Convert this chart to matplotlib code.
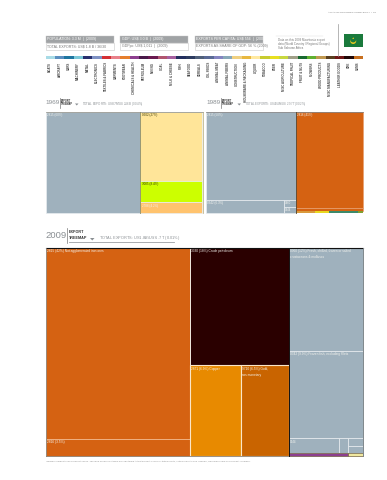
import matplotlib
matplotlib.use("Agg")
import matplotlib.pyplot as plt
from matplotlib.patches import Rectangle, Polygon, Circle

plt.rcParams['font.family'] = ['Liberation Sans Narrow', 'Liberation Sans', 'DejaVu Sans']

GREY = "#9fb1bd"
ORANGE = "#d56212"
LINE = "#e9edf0"

# legend strip
strip_colors = ["#a8dbe6", "#5b8fc0", "#1f76a0", "#7cc8d8", "#28306e", "#7f92c4", "#d42f34", "#e9808a",
                "#e67f2d", "#8d3f8f", "#4a1a4a", "#6a1a50", "#b0556f", "#a660a0", "#23305f", "#2d3c60",
                "#50607a", "#5a6a95", "#8484c0", "#88a8b8", "#f0d080", "#e8b840", "#ffe9a0", "#c8cc30",
                "#e8e020", "#c8d840", "#a0a088", "#186a30", "#60b030", "#c09850", "#5a4020", "#701818",
                "#200808", "#c87020"]
strip_labels = ["BOATS", "AIRCRAFT", "CARS", "MACHINERY", "METAL", "ELECTRONICS", "TEXTILES & FABRICS", "GARMENTS",
                "FOOTWEAR", "CHEMICALS & HEALTH", "PETROLEUM", "MINING", "COAL", "MILK & CHEESE", "FISH", "SEAFOOD",
                "CEREALS", "OIL SEEDS", "ANIMAL MEAT", "ANIMAL FIBERS", "CONSTRUCTION", "HOUSEWARE & PACKAGING", "LIQUOR",
                "TOBACCO", "BEER", "MISC AGRICULTURE", "TROPICAL FRUIT", "FRUIT & NUTS", "FLOWERS", "WOOD PRODUCTS",
                "MISC MANUFACTURING", "LEATHER GOODS", "ORE", "GEMS"]

# header boxes
header_top = ["POPULATION: 3.3 M  |  (2009)", "GDP: US$ 3.0 B  |  (2009)", "EXPORTS PER CAPITA: US$ 556  |  (2009)"]
header_bottom = ["TOTAL EXPORTS: US$ 1.8 B / 36/30", "GDPpc: US$ 1,011  |  (2009)", "EXPORTS AS SHARE OF GDP: 56 % (2009)"]
note_lines = ["Data on this 2009 Mauritania export", "data (World Country / Regional Groups)", "Sub Saharan Africa"]

# treemap shares, percent of each year's exports
t69_left = [60.4]
t69_right = [27.0, 8.4, 4.2]
t69_labels = ["2815 (60%)", "0502 (27%)", "3005 (8.4%)", "2788 (4.2%)"]
t69_colors = [GREY, "#ffe599", "#ccff00", "#ffc36e"]

t89_left = [50.0, 6.3]
t89_small = [0.5, 0.5]
t89_right = [40.7, 1.0]
t89_strip = [0.28, 0.22, 0.42, 0.08]
t89_strip_colors = ["#d99a3d", "#e8d820", "#3d8a6a", "#80a030"]

t09_orange = [41.6, 3.7]
t09_dark = [17.6]
t09_metal = [7.0, 6.6]
t09_grey = [11.55, 9.85]
t09_small = [1.1, 0.22, 0.16, 0.16]
t09_bottom = [0.27, 0.07]
t09_labels = ["2815 (42%) Not agglomerated iron ores", "2816 (3.5%)", "3330 (18%) Crude petroleum",
              "2871 (6.9%) Copper", "9710 (6.5%) Gold,\nnon-monetary",
              "0360 (12%) Fresh, chilled, frozen or salted\ncrustaceans & molluscs",
              "0342 (9.9%) Frozen fish, excluding fillets", "0344"]


def vsplit(x, y, w, h, vals):
    # stack rectangles from top to bottom
    out = []
    total = sum(vals)
    for v in vals:
        hh = h * v / total
        out.append((x, y, w, hh))
        y += hh
    return out


def hsplit(x, y, w, h, vals):
    out = []
    total = sum(vals)
    for v in vals:
        ww = w * v / total
        out.append((x, y, ww, h))
        x += ww
    return out


def box(r, color, ec=LINE, lw=0.5):
    ax.add_patch(Rectangle((r[0], r[1]), r[2], r[3], fc=color, ec=ec, lw=lw))


def label(r, s, color="#f3f3ee", size=2.2):
    ax.text(r[0] + 1.2, r[1] + 1.4, s, color=color, fontsize=size, va="top", ha="left", linespacing=1.6)


fig = plt.figure(figsize=(3.87, 4.8), dpi=100)
ax = fig.add_axes([0, 0, 1, 1])
ax.set_xlim(0, 387)
ax.set_ylim(480, 0)
ax.axis("off")

# page header
ax.text(376, 12, "ATLAS OF ECONOMIC COMPLEXITY  |  63", fontsize=1.7, color="#777777", ha="right", va="center")

# boxes at the top
for i, x in enumerate([45.5, 120, 195]):
    ax.add_patch(Rectangle((x, 35.5), 68, 7.5, fc="#a0a3a5", ec="#c8c8c8", lw=0.3))
    ax.add_patch(Rectangle((x, 43), 68, 6.5, fc="white", ec="#c8c8c8", lw=0.4))
    ax.text(x + 1.5, 39.3, header_top[i], fontsize=2.6, color="white", va="center")
    ax.text(x + 1.5, 46.3, header_bottom[i], fontsize=2.6, color="#777777", va="center")

ax.plot([276, 323], [35.5, 35.5], color="#dddddd", lw=0.3)
for i, s in enumerate(note_lines):
    ax.text(278, 39.5 + i * 4.4, s, fontsize=2.1, color="#777777", va="center")

# flag
ax.plot([338, 338], [24, 56], color="#999999", lw=0.5)
ax.add_patch(Rectangle((343.5, 34), 19.5, 13, fc="#1a7a3c", ec="none"))
ax.add_patch(Circle((353.2, 41), 3.0, fc="#e8c820", ec="none"))
ax.add_patch(Circle((353.2, 39.4), 3.0, fc="#1a7a3c", ec="none"))
ax.add_patch(Polygon([(352.3, 39), (354.1, 39), (353.2, 37.2)], fc="#e8c820", ec="none"))

# colour strip with product community names
seg = (363 - 45.5) / len(strip_colors)
for i, c in enumerate(strip_colors):
    ax.bar(45.5 + i * seg, 3, width=seg, bottom=56, color=c, align="edge")
    ax.text(45.5 + (i + 0.5) * seg, 62, strip_labels[i], rotation=90, fontsize=2.1, weight="bold",
            color="#444444", ha="center", va="top")

# 1969
ax.text(45.5, 103, "1969", fontsize=4.6, color="#8a8f93", va="center")
ax.plot([59.5, 59.5], [98, 108], color="#777777", lw=0.5)
ax.text(61, 101.2, "EXPORT", fontsize=1.8, weight="bold", color="#333333", va="center")
ax.text(61, 104.2, "TREEMAP", fontsize=1.8, weight="bold", color="#333333", va="center")
ax.add_patch(Polygon([(75, 103.5), (78.5, 103.5), (76.75, 105.5)], fc="#8a8f93", ec="none"))
ax.text(82, 103.5, "TOTAL EXPORTS: US$ 87 M / US$ 246 B (0.04%)", fontsize=2.1, color="#8a8f93", va="center")

cols = hsplit(45.5, 111.5, 157, 101.5, [sum(t69_left), sum(t69_right)])
rects = [cols[0]] + vsplit(*cols[1], t69_right)
for r, c, s in zip(rects, t69_colors, t69_labels):
    box(r, c)
    label(r, s, color="#333300" if c in ("#ffe599", "#ccff00") else "#f3f3ee")
ax.plot([45.5, 202.5], [111.5, 111.5], color="#8a8a80", lw=0.5)
ax.plot([cols[1][0]] * 2, [111.5, 213], color="#8a8a60", lw=0.6)
ax.plot([202.5, 202.5], [111.5, 213], color="#b0a878", lw=0.5)

# 1989
ax.text(206, 103, "1989", fontsize=4.6, color="#8a8f93", va="center")
ax.plot([220.5, 220.5], [98, 108], color="#777777", lw=0.5)
ax.text(222, 101.2, "EXPORT", fontsize=1.8, weight="bold", color="#333333", va="center")
ax.text(222, 104.2, "TREEMAP", fontsize=1.8, weight="bold", color="#333333", va="center")
ax.add_patch(Polygon([(237.5, 103.5), (241, 103.5), (239.25, 105.5)], fc="#8a8f93", ec="none"))
ax.text(245, 103.5, "TOTAL EXPORTS: US$ 434 M / US$ 2.97 T (0.02%)", fontsize=2.0, color="#8a8f93", va="center")

cols = hsplit(206, 111.5, 157, 101.5, [sum(t89_left) + sum(t89_small), sum(t89_right) + sum(t89_strip)])
left = vsplit(*cols[0], [t89_left[0], t89_left[1] + sum(t89_small)])
box(left[0], GREY)
label(left[0], "2815 (50%)")
low = hsplit(*left[1], [t89_left[1], sum(t89_small)])
box(low[0], GREY)
label(low[0], "0342 (6.3%)")
for r, s in zip(vsplit(*low[1], t89_small), ["0360", "0344"]):
    box(r, GREY)
    label(r, s, size=2.0)
right = vsplit(*cols[1], [sum(t89_right), sum(t89_strip)])
top = vsplit(*right[0], t89_right)
box(top[0], ORANGE, ec="#e8a070")
label(top[0], "2816 (41%)")
box(top[1], ORANGE, ec="#e8a070")
for r, c in zip(hsplit(*right[1], t89_strip), t89_strip_colors):
    ax.add_patch(Rectangle((r[0], r[1]), r[2], r[3], fc=c, ec="none"))
ax.plot([206, 363], [111.5, 111.5], color="#707070", lw=0.5)
ax.plot([cols[1][0]] * 2, [111.5, 213], color="#50402a", lw=0.6)

# 2009
ax.text(45.5, 235.5, "2009", fontsize=6.8, color="#8a8f93", va="center")
ax.plot([66.5, 66.5], [228, 243], color="#777777", lw=0.5)
ax.text(69, 232, "EXPORT", fontsize=2.7, weight="bold", color="#333333", va="center")
ax.text(69, 238, "TREEMAP", fontsize=2.7, weight="bold", color="#333333", va="center")
ax.add_patch(Polygon([(90, 238), (94.5, 238), (92.25, 240.5)], fc="#8a8f93", ec="none"))
ax.text(99, 238, "TOTAL EXPORTS: US$ 1.8 B / US$ 6.7 T (0.01%)", fontsize=2.8, color="#8a8f93", va="center")
ax.plot([69, 174], [242.3, 242.3], color="#9a9ea2", lw=0.6)

cols = hsplit(45.5, 248, 317.5, 208, [sum(t09_orange), t09_dark[0] + sum(t09_metal), sum(t09_grey) + sum(t09_small) + sum(t09_bottom)])
oranges = vsplit(*cols[0], t09_orange)
for r, s in zip(oranges, t09_labels[:2]):
    box(r, ORANGE, ec="#f0b080", lw=0.7)
    label(r, s, size=2.35)
mid = vsplit(*cols[1], [t09_dark[0], sum(t09_metal)])
box(mid[0], "#2a0000", ec="#f0e8e0", lw=0.7)
label(mid[0], t09_labels[2], size=2.35)
for r, c, s in zip(hsplit(*mid[1], t09_metal), ["#e88a00", "#c96400"], t09_labels[3:5]):
    box(r, c, ec="#fbe6c8", lw=0.8)
    label(r, s, size=2.35)

right = vsplit(*cols[2], [sum(t09_grey) + sum(t09_small), sum(t09_bottom)])
greys = vsplit(*right[0], [t09_grey[0], t09_grey[1], sum(t09_small)])
for r, s in zip(greys[:2], t09_labels[5:7]):
    box(r, GREY)
    label(r, s, size=2.35)
row = hsplit(*greys[2], [t09_small[0], t09_small[1], t09_small[2] + t09_small[3]])
box(row[0], GREY)
label(row[0], t09_labels[7], size=2.1)
box(row[1], GREY)
for r in vsplit(*row[2], t09_small[2:]):
    box(r, GREY)
for r, c in zip(hsplit(*right[1], t09_bottom), ["#8d3f8f", "#f0e8a0"]):
    box(r, c, ec="#706040", lw=0.5)
ax.plot([45.5, 363], [248, 248], color="#111111", lw=0.8)
ax.plot([45.5, 45.5], [248, 456], color="#8a8278", lw=0.6)
ax.plot([363, 363], [248, 456], color="#80888c", lw=0.7)
ax.plot([45.5, 289], [456, 456], color="#8a8278", lw=0.6)
ax.plot([cols[2][0]] * 2, [248, 456], color="#111111", lw=0.7)

ax.text(46, 461, "*Numbers indicate 2009 Product codes. The area of each rectangle is proportional to that product's share of total exports, "
        "Total Product Value (Hidalgo, Hausmann) and commonality (Leamer).",
        fontsize=1.7, color="#888888", va="center")

fig.savefig("out.png", dpi=100)
